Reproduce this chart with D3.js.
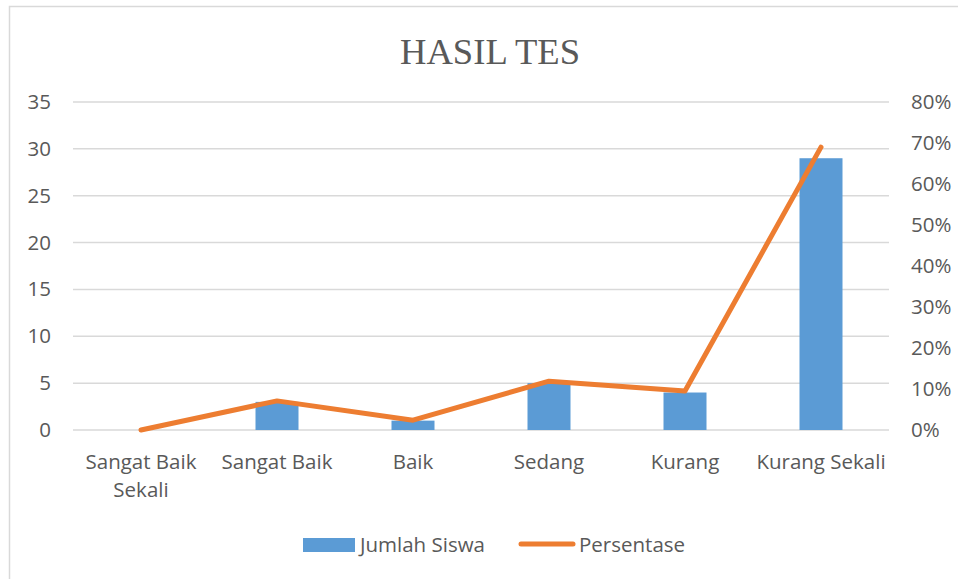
<!DOCTYPE html>
<html><head><meta charset="utf-8">
<script src="https://cdn.jsdelivr.net/npm/d3@7"></script>
<style>body{margin:0;background:#fff}svg{display:block}</style>
</head><body><svg id="c" width="958" height="579"></svg>
<script>
const categories = [["Sangat Baik","Sekali"],["Sangat Baik"],["Baik"],["Sedang"],["Kurang"],["Kurang Sekali"]];
const jumlahSiswa = [0, 3, 1, 5, 4, 29];
const persentase = [0, 0.071, 0.024, 0.119, 0.095, 0.69];
const leftTicks = [0,5,10,15,20,25,30,35];
const rightTicks = [0,0.1,0.2,0.3,0.4,0.5,0.6,0.7,0.8];
const title = "HASIL TES";
const seriesNames = ["Jumlah Siswa","Persentase"];

const svg = d3.select("#c");
const font = "'Open Sans', sans-serif";
const fs = 20.5;
const txt = "#595959";
svg.append("rect").attr("x",9.5).attr("y",6.5).attr("width",960).attr("height",600)
  .attr("fill","#fff").attr("stroke","#d9d9d9").attr("stroke-width",1.5);

const x0 = 73, x1 = 889, yTop = 102, yBot = 430;
const idx = categories.map((d,i)=>i);
const x = d3.scaleBand().domain(idx).range([x0,x1]);
const yL = d3.scaleLinear().domain([0,35]).range([yBot,yTop]);
const yR = d3.scaleLinear().domain([0,0.8]).range([yBot,yTop]);

svg.append("text").attr("x",490).attr("y",64).attr("text-anchor","middle")
  .attr("font-family","'Liberation Serif','Times New Roman',serif").attr("font-size",36)
  .attr("textLength",180).attr("lengthAdjust","spacingAndGlyphs")
  .attr("fill",txt).text(title);

// gridlines
svg.append("g").selectAll("line").data(leftTicks).join("line")
  .attr("x1",x0).attr("x2",x1).attr("y1",d=>yL(d)).attr("y2",d=>yL(d))
  .attr("stroke","#d9d9d9").attr("stroke-width",1.5);

// left axis
const la = svg.append("g").attr("transform",`translate(${x0},0)`)
  .call(d3.axisLeft(yL).tickValues(leftTicks).tickSize(0).tickPadding(22));
la.select(".domain").remove();
la.selectAll("text").attr("font-family",font).attr("font-size",fs).attr("fill",txt);

const ra = svg.append("g").attr("transform",`translate(${x1},0)`)
  .call(d3.axisRight(yR).tickValues(rightTicks).tickFormat(d3.format(".0%")).tickSize(0).tickPadding(22));
ra.select(".domain").remove();
ra.selectAll("text").attr("font-family",font).attr("font-size",fs).attr("fill",txt);

// bars
const bw = 43;
svg.append("g").selectAll("rect").data(jumlahSiswa).join("rect")
  .attr("x",(d,i)=>x(i)+x.bandwidth()/2-bw/2).attr("width",bw)
  .attr("y",d=>yL(d)).attr("height",d=>yBot-yL(d)).attr("fill","#5b9bd5");

// line
const line = d3.line().x((d,i)=>x(i)+x.bandwidth()/2).y(d=>yR(d));
svg.append("path").datum(persentase).attr("d",line).attr("fill","none")
  .attr("stroke","#ed7d31").attr("stroke-width",5).attr("stroke-linecap","round").attr("stroke-linejoin","round");

// category labels
const cl = svg.append("g");
categories.forEach((lines,i)=>{
  const t = cl.append("text").attr("x",x(i)+x.bandwidth()/2).attr("y",469)
    .attr("text-anchor","middle").attr("font-family",font).attr("font-size",fs).attr("fill",txt);
  lines.forEach((l,j)=>t.append("tspan").attr("x",x(i)+x.bandwidth()/2).attr("dy",j?28:0).text(l));
});

// legend
svg.append("rect").attr("x",303).attr("y",538).attr("width",52).attr("height",14).attr("fill","#5b9bd5");
svg.append("text").attr("x",360).attr("y",552).attr("font-family",font).attr("font-size",fs).attr("fill",txt).text(seriesNames[0]);
svg.append("line").attr("x1",521).attr("x2",573).attr("y1",544).attr("y2",544)
  .attr("stroke","#ed7d31").attr("stroke-width",5).attr("stroke-linecap","round");
svg.append("text").attr("x",579).attr("y",552).attr("font-family",font).attr("font-size",fs).attr("fill",txt).text(seriesNames[1]);
</script></body></html>
